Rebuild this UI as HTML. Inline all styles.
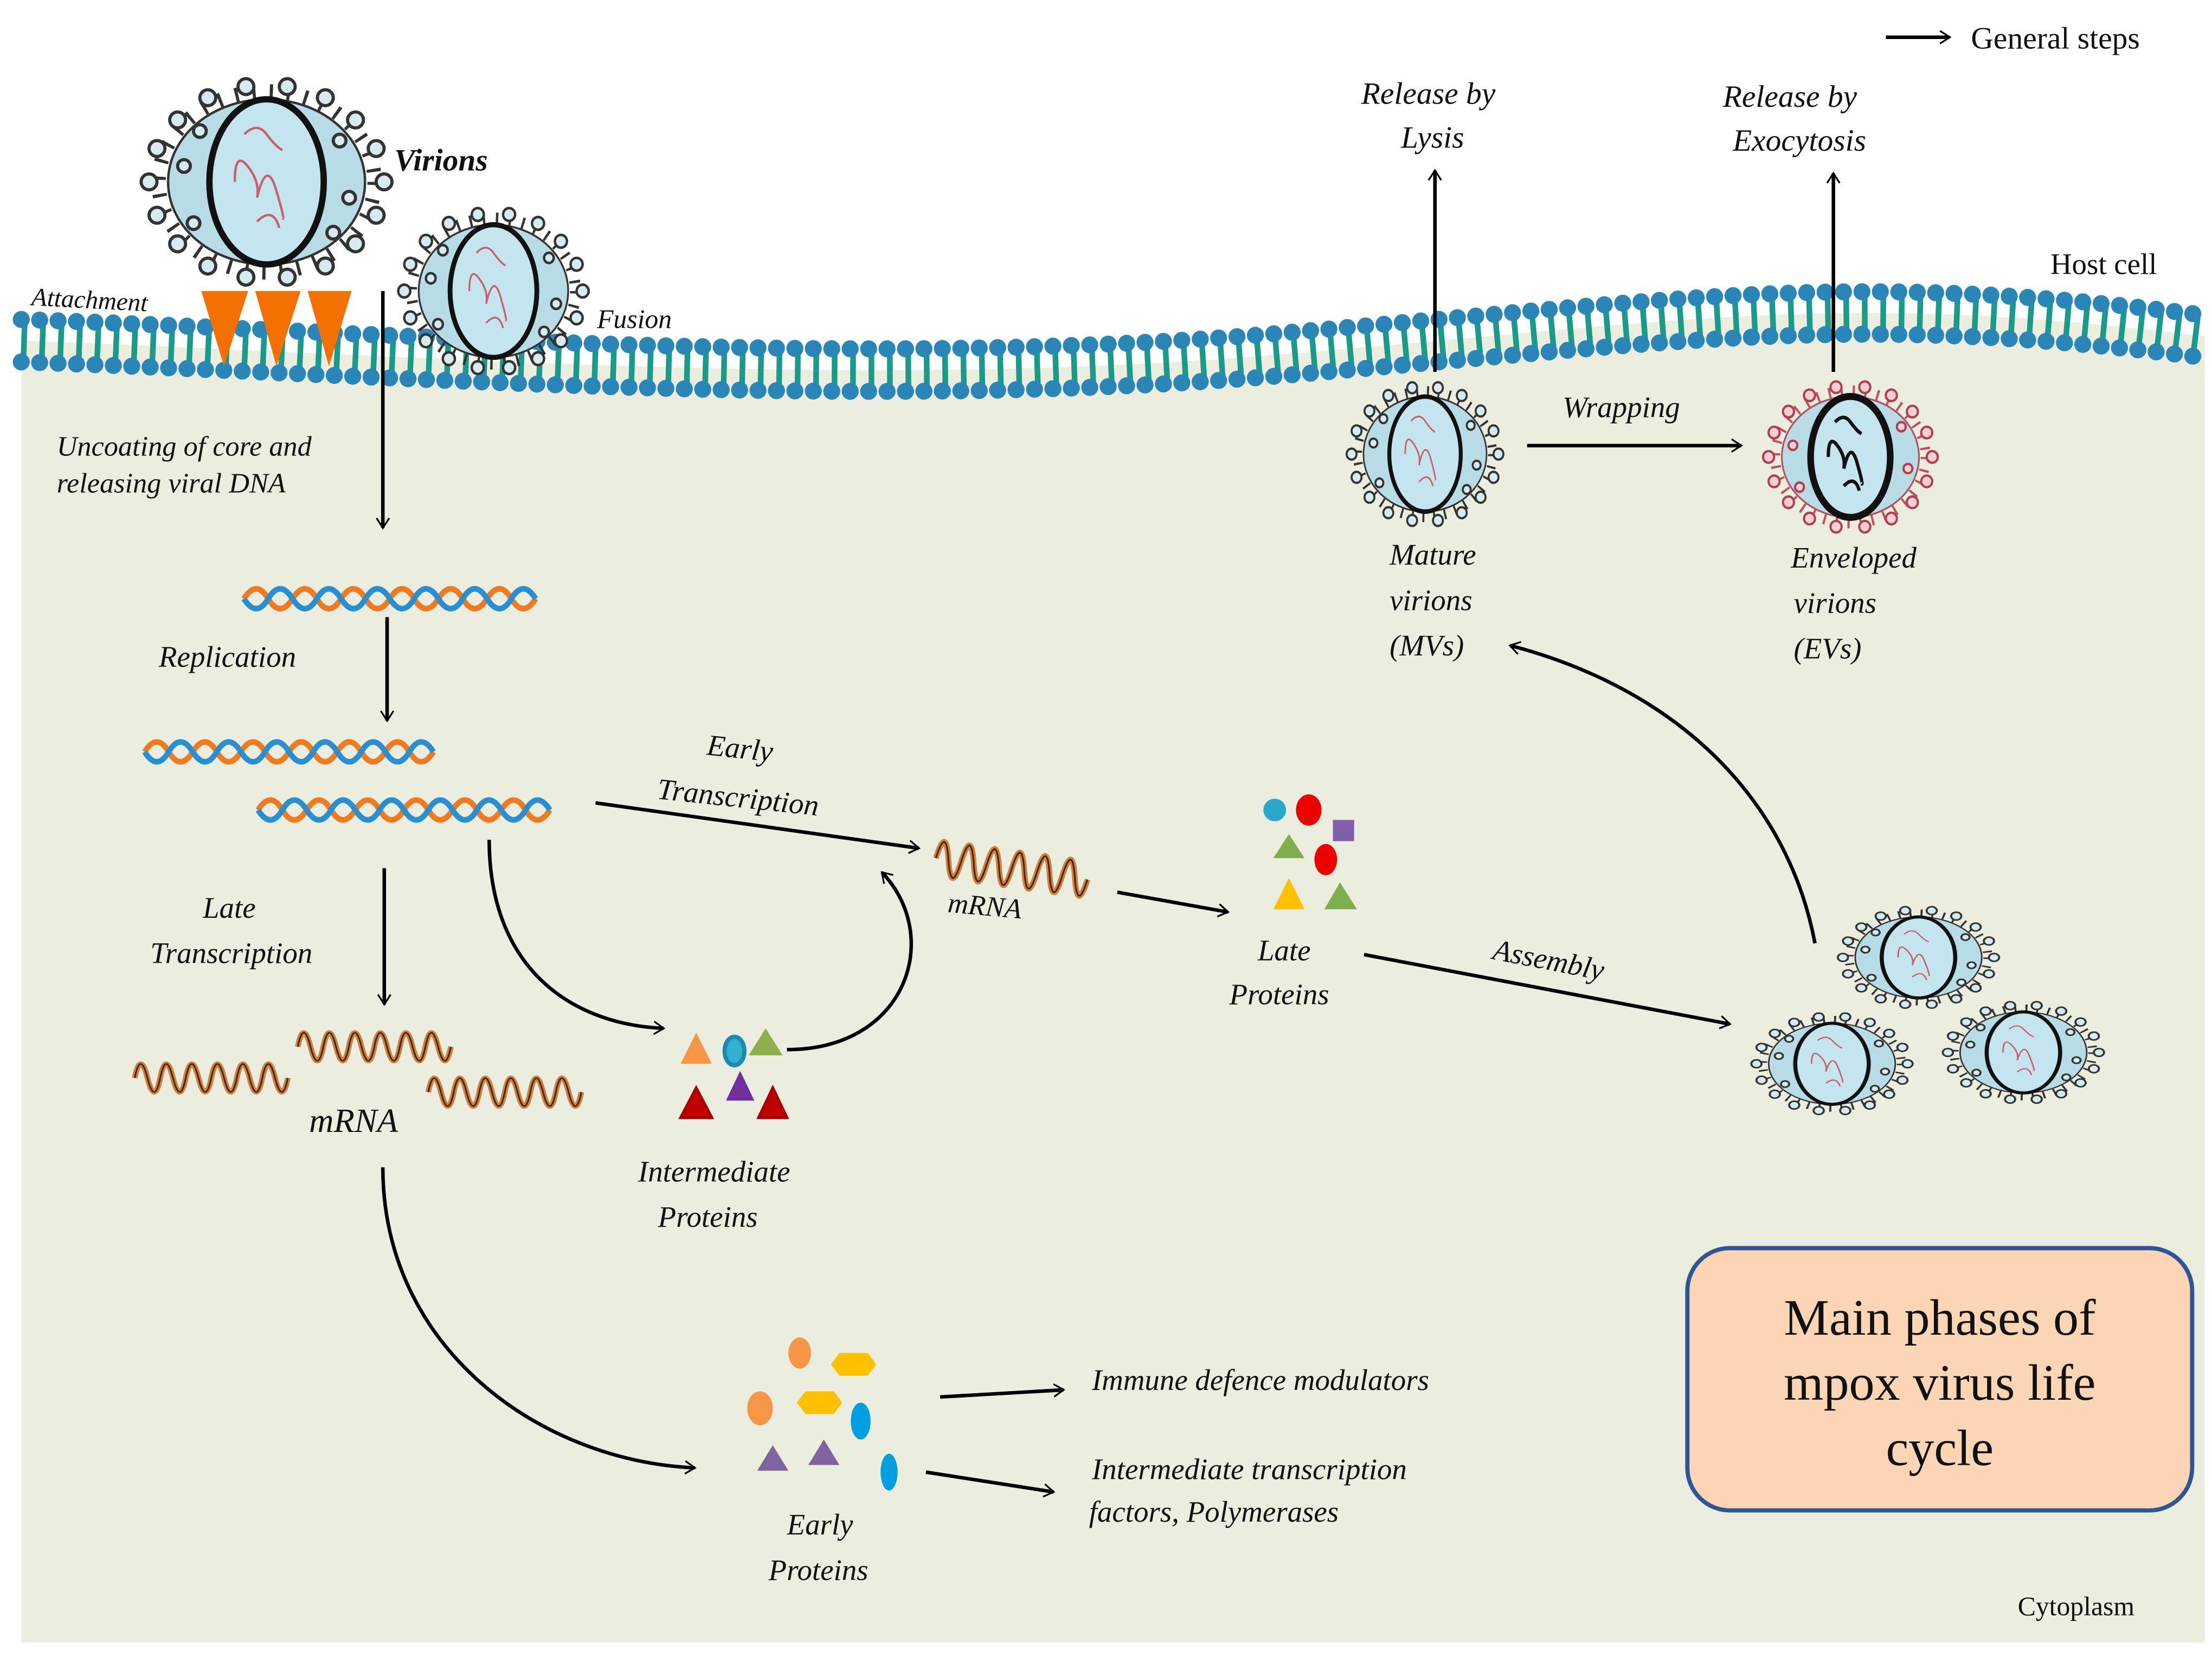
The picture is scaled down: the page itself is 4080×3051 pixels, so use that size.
<!DOCTYPE html>
<html><head><meta charset="utf-8"><style>
html,body{margin:0;padding:0;background:#fff;}
svg{display:block;}
text{font-family:"Liberation Serif",serif;font-style:italic;fill:#111;}
</style></head><body>
<svg width="4080" height="3051" viewBox="0 0 1560 1166" xmlns="http://www.w3.org/2000/svg">
<defs>
<marker id="ah" viewBox="0 0 12 12" refX="10" refY="6" markerWidth="7" markerHeight="7" orient="auto" markerUnits="userSpaceOnUse" style="overflow:visible">
<path d="M-4,-3 L10,6 L-4,15" fill="none" stroke="#000" stroke-width="2.5" transform="scale(0.85) translate(2,1)"/>
</marker>
<g id="vir">
<ellipse cx="0" cy="0" rx="68" ry="57" fill="none" stroke="#333" stroke-width="9" stroke-dasharray="2 9"/>
<ellipse cx="0" cy="0" rx="62" ry="52" fill="#b7dce6" stroke="#333" stroke-width="1.5"/>
<g fill="#d5ebef" stroke="#333" stroke-width="2">
<circle cx="74" cy="0" r="5"/><circle cx="69" cy="21" r="5"/><circle cx="56" cy="39" r="5"/><circle cx="37" cy="53" r="5"/><circle cx="13" cy="60" r="5"/><circle cx="-13" cy="60" r="5"/><circle cx="-37" cy="53" r="5"/><circle cx="-56" cy="39" r="5"/><circle cx="-69" cy="21" r="5"/><circle cx="-74" cy="0" r="5"/><circle cx="69" cy="-21" r="5"/><circle cx="56" cy="-39" r="5"/><circle cx="37" cy="-53" r="5"/><circle cx="13" cy="-60" r="5"/><circle cx="-13" cy="-60" r="5"/><circle cx="-37" cy="-53" r="5"/><circle cx="-56" cy="-39" r="5"/><circle cx="-69" cy="-21" r="5"/>
<circle cx="52" cy="10" r="4"/><circle cx="-52" cy="-10" r="4"/><circle cx="46" cy="-26" r="4"/><circle cx="-46" cy="26" r="4"/><circle cx="42" cy="32" r="4"/><circle cx="-42" cy="-32" r="4"/>
</g>
<ellipse cx="0" cy="0" rx="36" ry="52" fill="#c4e4ee" stroke="#111" stroke-width="4"/>
<path d="M-14,-30 q8,-8 14,0 t10,10 M-20,0 q0,-20 8,-10 t6,20 q6,-25 12,-5 t4,18 M-6,25 q10,-10 14,4" fill="none" stroke="#c86070" stroke-width="1.5"/>
</g>
<g id="virE">
<ellipse cx="0" cy="0" rx="68" ry="57" fill="none" stroke="#c05060" stroke-width="9" stroke-dasharray="2 9"/>
<ellipse cx="0" cy="0" rx="62" ry="52" fill="#b7dce6" stroke="#b05060" stroke-width="1.5"/>
<g fill="#f4d0d4" stroke="#b04050" stroke-width="2">
<circle cx="74" cy="0" r="5"/><circle cx="69" cy="21" r="5"/><circle cx="56" cy="39" r="5"/><circle cx="37" cy="53" r="5"/><circle cx="13" cy="60" r="5"/><circle cx="-13" cy="60" r="5"/><circle cx="-37" cy="53" r="5"/><circle cx="-56" cy="39" r="5"/><circle cx="-69" cy="21" r="5"/><circle cx="-74" cy="0" r="5"/><circle cx="69" cy="-21" r="5"/><circle cx="56" cy="-39" r="5"/><circle cx="37" cy="-53" r="5"/><circle cx="13" cy="-60" r="5"/><circle cx="-13" cy="-60" r="5"/><circle cx="-37" cy="-53" r="5"/><circle cx="-56" cy="-39" r="5"/><circle cx="-69" cy="-21" r="5"/>
<circle cx="52" cy="10" r="4"/><circle cx="-52" cy="-10" r="4"/><circle cx="46" cy="-26" r="4"/><circle cx="-46" cy="26" r="4"/>
</g>
<ellipse cx="0" cy="0" rx="36" ry="52" fill="#c4e4ee" stroke="#111" stroke-width="6"/>
<path d="M-14,-30 q8,-8 14,0 t10,10 M-20,0 q0,-20 8,-10 t6,20 q6,-25 12,-5 t4,18 M-6,25 q10,-10 14,4" fill="none" stroke="#111" stroke-width="3"/>
</g>
<g id="helix">
<path d="M0,0 q9,-14 17.5,0 t17.5,0 t17.5,0 t17.5,0 t17.5,0 t17.5,0 t17.5,0 t17.5,0 t17.5,0 t17.5,0 t17.5,0 t17.5,0" fill="none" stroke="#f07a20" stroke-width="4"/>
<path d="M0,0 q9,14 17.5,0 t17.5,0 t17.5,0 t17.5,0 t17.5,0 t17.5,0 t17.5,0 t17.5,0 t17.5,0 t17.5,0 t17.5,0 t17.5,0" fill="none" stroke="#2a8fd0" stroke-width="4"/>
</g>
<g id="rna">
<path d="M0,0 q4,-22 9,0 t9,0 t9,0 t9,0 t9,0 t9,0 t9,0 t9,0 t9,0 t9,0 t9,0 t9,0" fill="none" stroke="#d08040" stroke-width="4"/>
<path d="M0,0 q4,-22 9,0 t9,0 t9,0 t9,0 t9,0 t9,0 t9,0 t9,0 t9,0 t9,0 t9,0 t9,0" fill="none" stroke="#4a2a10" stroke-width="1.2"/>
</g>
</defs>

<path d="M15,240 C300,250 600,275 900,250 S1300,205 1555,237 L1555,1158 L15,1158 Z" fill="#ebeedf"/>
<path d="M15,240 C300,250 600,275 900,250 S1300,205 1555,237" fill="none" stroke="#1a9a8a" stroke-width="26" stroke-dasharray="4 9" stroke-linecap="butt"/>
<g fill="none" stroke-linecap="round">
<path d="M15,225 C300,235 600,260 900,235 S1300,190 1555,222" stroke="#2b86b8" stroke-width="12" stroke-dasharray="0 13"/>
<path d="M15,255 C300,265 600,290 900,265 S1300,220 1555,252" stroke="#2b86b8" stroke-width="12" stroke-dasharray="0 13"/>
</g>

<use href="#vir" transform="translate(188,128) scale(1.12,1.12)"/>
<use href="#vir" transform="translate(348,205) scale(0.85,0.9)"/>
<use href="#vir" transform="translate(1005,320) scale(0.7,0.78)"/>
<use href="#virE" transform="translate(1305,322) scale(0.78,0.82)"/>
<use href="#vir" transform="translate(1353,675) scale(0.72,0.55)"/>
<use href="#vir" transform="translate(1292,750) scale(0.72,0.55)"/>
<use href="#vir" transform="translate(1427,742) scale(0.72,0.55)"/>

<g fill="#f47000">
<path d="M142,205 L175,205 L158,258Z"/><path d="M180,205 L212,205 L195,258Z"/><path d="M217,205 L248,205 L232,258Z"/>
</g>

<use href="#helix" transform="translate(172,422) scale(0.98,1)"/>
<use href="#helix" transform="translate(102,530) scale(0.97,1)"/>
<use href="#helix" transform="translate(182,571) scale(0.98,1)"/>

<use href="#rna" transform="translate(95,760) scale(1,0.9)"/>
<use href="#rna" transform="translate(210,738) scale(1,0.9)"/>
<use href="#rna" transform="translate(302,770) scale(1,0.9)"/>
<use href="#rna" transform="translate(660,605) rotate(8) scale(1,1.1)"/>

<path d="M480,750 L491,728 L502,750Z" fill="#f79646"/>
<ellipse cx="518" cy="741" rx="7" ry="10" fill="#31b0d0" stroke="#1a8ab0" stroke-width="3"/>
<path d="M528,744 L540,725 L552,744Z" fill="#8db04c"/>
<path d="M480,788 L491,767 L502,788Z" fill="#c00000" stroke="#a00" stroke-width="2"/>
<path d="M512,776 L522,755 L532,776Z" fill="#7030a0"/>
<path d="M535,788 L545,767 L555,788Z" fill="#c00000" stroke="#a00" stroke-width="2"/>

<circle cx="899" cy="571" r="8" fill="#2aa8cc"/>
<ellipse cx="923" cy="571" rx="9" ry="11" fill="#ee0000"/>
<rect x="940" y="578" width="15" height="15" fill="#8060a8"/>
<path d="M898,605 L909,588 L920,605Z" fill="#7faf4c"/>
<ellipse cx="935" cy="606" rx="8" ry="11" fill="#ee0000"/>
<path d="M898,641 L909,619 L920,641Z" fill="#ffc000"/>
<path d="M934,641 L945,622 L957,641Z" fill="#7faf4c"/>

<ellipse cx="564" cy="954" rx="8" ry="11" fill="#f79646"/>
<path d="M586,962 L592,954 L612,954 L618,962 L612,970 L592,970Z" fill="#ffc000"/>
<ellipse cx="536" cy="993" rx="9" ry="12" fill="#f79646"/>
<path d="M562,989 L568,981 L588,981 L594,989 L588,997 L568,997Z" fill="#ffc000"/>
<ellipse cx="607" cy="1002" rx="7" ry="13" fill="#00a0e0"/>
<ellipse cx="627" cy="1038" rx="6" ry="13" fill="#00a0e0"/>
<path d="M534,1037 L545,1019 L556,1037Z" fill="#8064a2"/>
<path d="M570,1033 L581,1015 L592,1033Z" fill="#8064a2"/>

<g fill="none" stroke="#000" stroke-width="2.5" marker-end="url(#ah)">
<path d="M270,205 L270,372"/>
<path d="M273,435 L273,508"/>
<path d="M271,612 L271,708"/>
<path d="M345,592 C345,680 400,722 468,725"/>
<path d="M420,566 L648,598"/>
<path d="M555,740 C640,740 665,660 622,615"/>
<path d="M788,629 L866,643"/>
<path d="M962,673 L1220,722"/>
<path d="M1280,665 C1260,560 1180,485 1065,455"/>
<path d="M1077,314 L1228,314"/>
<path d="M1012,262 L1012,120"/>
<path d="M1293,262 L1293,122"/>
<path d="M270,823 C270,950 380,1030 490,1035"/>
<path d="M663,985 L750,980"/>
<path d="M653,1038 L743,1052"/>
<path d="M1330,26 L1375,26"/>
</g>

<text x="1390" y="34" font-size="22" style="font-style:normal">General  steps</text>
<text x="960" y="73" font-size="22">Release  by</text>
<text x="988" y="104" font-size="22">Lysis</text>
<text x="1215" y="75" font-size="22">Release  by</text>
<text x="1222" y="106" font-size="22">Exocytosis</text>
<text x="1446" y="193" font-size="21" style="font-style:normal">Host cell</text>
<text x="278" y="120" font-size="22" font-weight="bold">Virions</text>
<text x="22" y="215" font-size="18" transform="rotate(3 22 215)">Attachment</text>
<text x="421" y="231" font-size="19">Fusion</text>
<text x="40" y="321" font-size="20">Uncoating of  core and</text>
<text x="40" y="347" font-size="20">releasing  viral DNA</text>
<text x="112" y="470" font-size="21">Replication</text>
<text x="143" y="647" font-size="21">Late</text>
<text x="106" y="679" font-size="21">Transcription</text>
<text x="498" y="532" font-size="21" transform="rotate(6 498 532)">Early</text>
<text x="463" y="563" font-size="21" transform="rotate(6 463 563)">Transcription</text>
<text x="668" y="643" font-size="20" transform="rotate(5 668 643)">mRNA</text>
<text x="218" y="798" font-size="24">mRNA</text>
<text x="887" y="677" font-size="21">Late</text>
<text x="867" y="708" font-size="21">Proteins</text>
<text x="1052" y="676" font-size="21" transform="rotate(11 1052 676)">Assembly</text>
<text x="1102" y="294" font-size="21">Wrapping</text>
<text x="980" y="398" font-size="21">Mature</text>
<text x="980" y="430" font-size="21">virions</text>
<text x="980" y="462" font-size="21">(MVs)</text>
<text x="1263" y="400" font-size="21">Enveloped</text>
<text x="1265" y="432" font-size="21">virions</text>
<text x="1265" y="464" font-size="21">(EVs)</text>
<text x="450" y="833" font-size="21">Intermediate</text>
<text x="464" y="865" font-size="21">Proteins</text>
<text x="770" y="980" font-size="21">Immune defence modulators</text>
<text x="770" y="1043" font-size="21">Intermediate transcription</text>
<text x="768" y="1073" font-size="21">factors, Polymerases</text>
<text x="555" y="1082" font-size="21">Early</text>
<text x="542" y="1114" font-size="21">Proteins</text>
<text x="1423" y="1139" font-size="19" style="font-style:normal">Cytoplasm</text>

<rect x="1190" y="880" width="356" height="185" rx="30" fill="#fcd5b4" stroke="#2f5597" stroke-width="3"/>
<g font-size="36" text-anchor="middle">
<text x="1368" y="941" style="font-style:normal">Main phases of</text>
<text x="1368" y="987" style="font-style:normal">mpox virus life</text>
<text x="1368" y="1033" style="font-style:normal">cycle</text>
</g>
</svg>
</body></html>
